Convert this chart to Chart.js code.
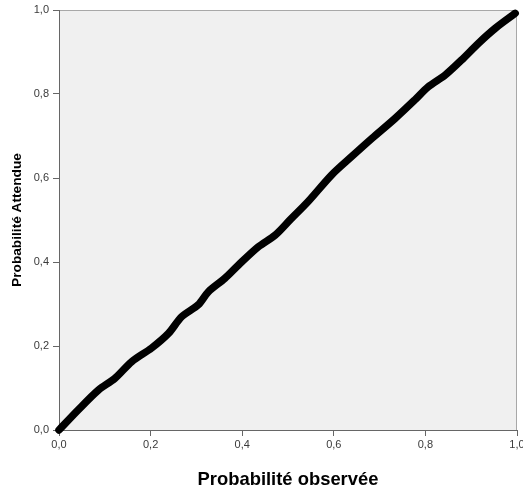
<!DOCTYPE html>
<html>
<head>
<meta charset="utf-8">
<script src="https://cdn.jsdelivr.net/npm/chart.js@4/dist/chart.umd.min.js"></script>
<style>
html,body{margin:0;padding:0;background:#fff;}
#wrap{width:523px;height:494px;position:relative;}
</style>
</head>
<body>
<div id="wrap"><canvas id="c" width="523" height="494"></canvas></div>
<script>
// Observed cumulative probability (x) and expected cumulative probability (y)
const observed = [0, 0.042, 0.086, 0.122, 0.159, 0.202, 0.239, 0.268, 0.304, 0.326, 0.362, 0.392, 0.435, 0.472, 0.506, 0.544, 0.595, 0.639, 0.683, 0.734, 0.777, 0.806, 0.843, 0.879, 0.916, 0.952, 0.996];
const expected = [0, 0.048, 0.095, 0.123, 0.163, 0.195, 0.230, 0.270, 0.298, 0.329, 0.361, 0.393, 0.436, 0.464, 0.502, 0.544, 0.607, 0.651, 0.694, 0.742, 0.786, 0.817, 0.845, 0.881, 0.921, 0.956, 0.992];
const tickValues = [0, 0.2, 0.4, 0.6, 0.8, 1.0];
const tickLabels = ["0,0", "0,2", "0,4", "0,6", "0,8", "1,0"];
const xTitle = "Probabilité observée";
const yTitle = "Probabilité Attendue";

const points = observed.map((v, i) => ({x: v, y: expected[i]}));

const bgPlugin = {
  id: 'bg',
  beforeDraw(chart) {
    const {ctx, chartArea: a} = chart;
    ctx.save();
    ctx.fillStyle = '#f0f0f0';
    ctx.fillRect(a.left, a.top, a.right - a.left, a.bottom - a.top);
    ctx.strokeStyle = '#a8a8a8';
    ctx.lineWidth = 1;
    ctx.beginPath();
    ctx.moveTo(a.left, a.top + 0.5);
    ctx.lineTo(a.right - 0.5, a.top + 0.5);
    ctx.lineTo(a.right - 0.5, a.bottom);
    ctx.stroke();
    ctx.restore();
  }
};

function fmt(v) {
  const i = tickValues.findIndex(t => Math.abs(t - v) < 1e-9);
  return i >= 0 ? tickLabels[i] : '';
}

new Chart(document.getElementById('c'), {
  type: 'scatter',
  data: {
    datasets: [{
      data: points,
      showLine: true,
      borderColor: '#000',
      borderWidth: 7.5,
      borderCapStyle: 'round',
      borderJoinStyle: 'round',
      tension: 0.3,
      pointRadius: 0,
      clip: false
    }]
  },
  options: {
    responsive: false,
    animation: false,
    devicePixelRatio: 1,
    layout: {padding: {top: 10, right: 6, left: 0, bottom: 0}},
    plugins: {legend: {display: false}, tooltip: {enabled: false}},
    scales: {
      x: {
        type: 'linear', min: 0, max: 1,
        afterBuildTicks(s) { s.ticks = tickValues.map(v => ({value: v})); },
        afterFit(s) { s.height = 64; s.paddingLeft = 0; s.paddingRight = 0; },
        ticks: {callback: fmt, font: {family: 'Liberation Sans, Arial', size: 11}, color: '#3a3a3a', padding: 2, maxRotation: 0, autoSkip: false},
        grid: {drawOnChartArea: false, drawTicks: true, tickLength: 6, color: '#666'},
        border: {color: '#666', width: 1},
        title: {display: true, text: xTitle, font: {family: 'Liberation Sans, Arial', size: 18.4, weight: 'bold'}, color: '#000', padding: {top: 0, bottom: 3}}
      },
      y: {
        type: 'linear', min: 0, max: 1,
        afterBuildTicks(s) { s.ticks = tickValues.map(v => ({value: v})); },
        afterFit(s) { s.width = 59; s.paddingTop = 0; s.paddingBottom = 0; },
        ticks: {callback: fmt, font: {family: 'Liberation Sans, Arial', size: 11}, color: '#3a3a3a', padding: 4, autoSkip: false},
        grid: {drawOnChartArea: false, drawTicks: true, tickLength: 6, color: '#666'},
        border: {color: '#666', width: 1},
        title: {display: true, text: yTitle, font: {family: 'Liberation Sans, Arial', size: 13.7, weight: 'bold'}, color: '#000', padding: {top: 9, bottom: 0}}
      }
    }
  },
  plugins: [bgPlugin]
});
</script>
</body>
</html>
